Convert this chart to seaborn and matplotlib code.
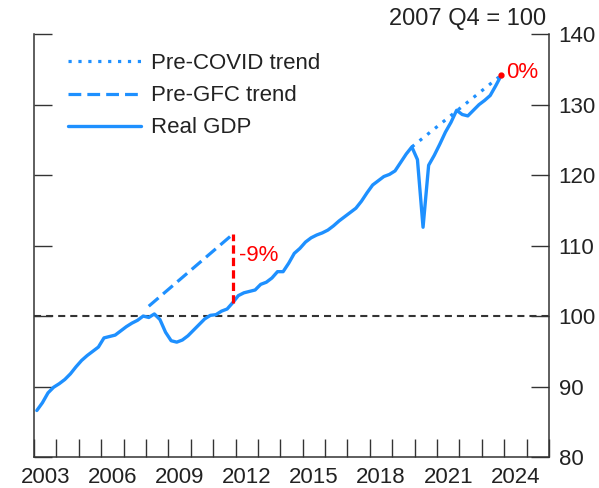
import matplotlib
matplotlib.use("Agg")
import matplotlib.pyplot as plt
import seaborn as sns
import pandas as pd

# Real GDP, quarterly from 2003 Q1, index 2007 Q4 = 100
first_year = 2003
gdp = [
    86.6, 87.7, 89.1, 89.9,      # 2003
    90.4, 91.0, 91.8, 92.8,      # 2004
    93.7, 94.4, 95.0, 95.6,      # 2005
    96.9, 97.1, 97.3, 97.9,      # 2006
    98.5, 99.0, 99.4, 100.0,     # 2007
    99.8, 100.3, 99.5, 97.7,     # 2008
    96.5, 96.3, 96.6, 97.2,      # 2009
    98.0, 98.8, 99.6, 100.1,     # 2010
    100.2, 100.7, 101.0, 101.9,  # 2011
    102.9, 103.3, 103.5, 103.7,  # 2012
    104.5, 104.8, 105.4, 106.3,  # 2013
    106.3, 107.5, 108.9, 109.6,  # 2014
    110.5, 111.1, 111.5, 111.8,  # 2015
    112.2, 112.8, 113.5, 114.1,  # 2016
    114.7, 115.3, 116.3, 117.5,  # 2017
    118.6, 119.2, 119.8, 120.1,  # 2018
    120.6, 121.8, 123.0, 124.0,  # 2019
    122.2, 112.6, 121.4, 122.8,  # 2020
    124.4, 126.1, 127.5, 129.2,  # 2021
    128.6, 128.4, 129.2, 130.0,  # 2022
    130.6, 131.3, 132.7, 134.2,  # 2023
]

# trend lines (year, quarter) -> value
gfc_trend_qtr = [(2008, 1), (2011, 4)]
gfc_trend_val = [101.4, 111.6]
covid_trend_qtr = [(2019, 4), (2023, 4)]
covid_trend_val = [124.0, 134.2]
gap_labels = ["-9%", "0%"]

year_labels = list(range(2003, 2025, 3))
y_ticks = [80, 90, 100, 110, 120, 130, 140]

BLUE = "#1E90FF"
RED = "#FF0000"
INK = "#222222"


def qpos(year, q):
    return year + (q - 0.5) / 4


df = pd.DataFrame({"gdp": gdp})
df["year"] = first_year + df.index // 4
df["q"] = df.index % 4 + 1
df["t"] = qpos(df["year"], df["q"])

gfc_t = [qpos(y, q) for y, q in gfc_trend_qtr]
covid_t = [qpos(y, q) for y, q in covid_trend_qtr]

sns.set_style("ticks")
plt.rcParams["font.family"] = ["Liberation Sans", "DejaVu Sans"]
plt.rcParams["font.size"] = 16

fig, ax = plt.subplots(figsize=(5.99, 4.88), dpi=100)
fig.subplots_adjust(left=0.0568, right=0.9165, bottom=0.0635, top=0.930)

ax.axhline(100, color="#333333", lw=1.5, linestyle=(0, (3.4, 2.4)), zorder=1)

sns.lineplot(x=covid_t, y=covid_trend_val, ax=ax, color=BLUE, lw=2.3,
             linestyle=(0, (1, 2.1)), label="Pre-COVID trend", zorder=2)
sns.lineplot(x=gfc_t, y=gfc_trend_val, ax=ax, color=BLUE, lw=2.3,
             linestyle=(0, (4.0, 1.9)), label="Pre-GFC trend", zorder=2)
sns.lineplot(data=df, x="t", y="gdp", ax=ax, color=BLUE, lw=2.4,
             label="Real GDP", zorder=3)

# gap markers
gdp_at_gfc_end = df.loc[(df.year == gfc_trend_qtr[1][0]) & (df.q == gfc_trend_qtr[1][1]), "gdp"].iloc[0]
ax.plot([gfc_t[1], gfc_t[1]], [gdp_at_gfc_end, gfc_trend_val[1]], color=RED, lw=2.3,
        linestyle=(0, (2.6, 1.3)), zorder=4)
ax.text(gfc_t[1] + 0.3, 108.6, gap_labels[0], color=RED, fontsize=16, ha="left", va="center")

ax.plot([covid_t[1]], [covid_trend_val[1]], marker="o", ms=3.5, color=RED, zorder=5)
ax.text(covid_t[1] + 0.2, 134.6, gap_labels[1], color=RED, fontsize=16, ha="left", va="center")

# axes
ax.set_xlim(2003, 2025.95)
ax.set_ylim(80, 140)
ax.set_xlabel("")
ax.set_ylabel("")
ax.set_xticks([y + 0.5 for y in year_labels])
ax.set_xticklabels([str(y) for y in year_labels])
ax.set_xticks(list(range(2003, 2027)), minor=True)
ax.set_yticks(y_ticks)
ax.yaxis.tick_right()
ax.tick_params(axis="x", which="major", length=0, pad=7, labelsize=16, colors=INK)
ax.tick_params(axis="x", which="minor", direction="in", length=13, width=1.0, color="#333333")
ax.tick_params(axis="y", which="major", direction="in", length=13, width=1.0, color="#333333",
               left=True, right=True, labelleft=False, labelright=True, pad=7,
               labelsize=16, labelcolor=INK)

ax.spines["top"].set_visible(False)
for s in ["left", "right", "bottom"]:
    ax.spines[s].set_visible(True)
    ax.spines[s].set_color("#333333")
    ax.spines[s].set_linewidth(1.1)

leg = ax.legend(loc="upper left", bbox_to_anchor=(0.066, 0.955), frameon=False,
                borderaxespad=0, borderpad=0, handlelength=3.3, handletextpad=0.45,
                labelspacing=0.5, fontsize=16)
for t in leg.get_texts():
    t.set_color(INK)

fig.text(0.911, 0.961, "2007 Q4 = 100", ha="right", va="center", fontsize=17, color=INK)

fig.savefig("out.png", dpi=100)
